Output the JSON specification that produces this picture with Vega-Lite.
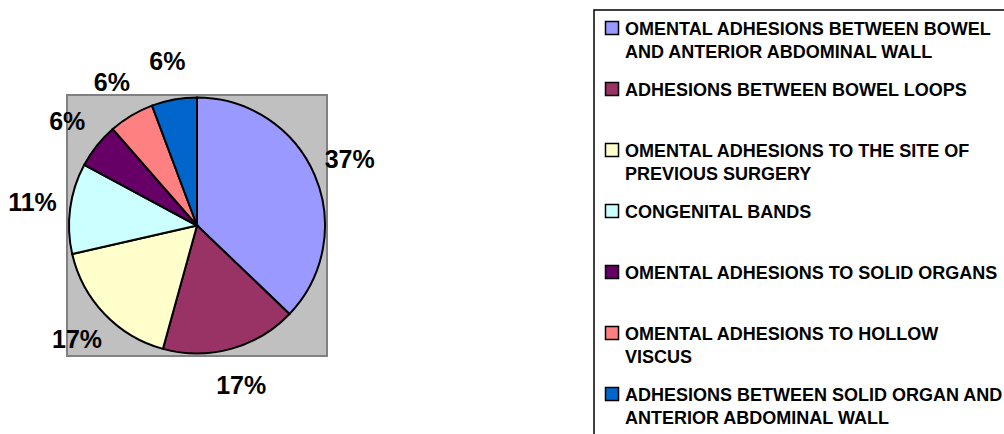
{
  "$schema": "https://vega.github.io/schema/vega-lite/v6.json",
  "width": 260,
  "height": 261,
  "autosize": {"type": "none"},
  "padding": {"left": 67, "top": 95, "right": 677, "bottom": 78},
  "background": "white",
  "view": {"fill": "#C0C0C0", "stroke": "#808080", "strokeWidth": 2},
  "data": {
    "values": [
      {"type": "OMENTAL ADHESIONS BETWEEN BOWEL\nAND ANTERIOR ABDOMINAL WALL", "n": 13},
      {"type": "ADHESIONS BETWEEN BOWEL LOOPS", "n": 6},
      {"type": "OMENTAL ADHESIONS TO THE SITE OF\nPREVIOUS SURGERY", "n": 6},
      {"type": "CONGENITAL BANDS", "n": 4},
      {"type": "OMENTAL ADHESIONS TO SOLID ORGANS", "n": 2},
      {"type": "OMENTAL ADHESIONS TO HOLLOW\nVISCUS", "n": 2},
      {"type": "ADHESIONS BETWEEN SOLID ORGAN AND\nANTERIOR ABDOMINAL WALL", "n": 2}
    ]
  },
  "transform": [
    {"window": [{"op": "row_number", "as": "idx"}]},
    {"joinaggregate": [{"op": "sum", "field": "n", "as": "total"}]},
    {"calculate": "datum.n / datum.total", "as": "share"}
  ],
  "encoding": {
    "theta": {"field": "n", "type": "quantitative", "stack": true},
    "order": {"field": "idx", "type": "quantitative"}
  },
  "layer": [
    {
      "mark": {"type": "arc", "outerRadius": 128, "stroke": "black", "strokeWidth": 2},
      "encoding": {
        "color": {
          "field": "type",
          "type": "nominal",
          "scale": {
            "domain": [
              "OMENTAL ADHESIONS BETWEEN BOWEL\nAND ANTERIOR ABDOMINAL WALL",
              "ADHESIONS BETWEEN BOWEL LOOPS",
              "OMENTAL ADHESIONS TO THE SITE OF\nPREVIOUS SURGERY",
              "CONGENITAL BANDS",
              "OMENTAL ADHESIONS TO SOLID ORGANS",
              "OMENTAL ADHESIONS TO HOLLOW\nVISCUS",
              "ADHESIONS BETWEEN SOLID ORGAN AND\nANTERIOR ABDOMINAL WALL"
            ],
            "range": ["#9999FF", "#993366", "#FFFFCC", "#CCFFFF", "#660066", "#FF8080", "#0066CC"]
          },
          "legend": {
            "title": null,
            "orient": "none",
            "legendX": 527,
            "legendY": -85,
            "symbolType": "square",
            "symbolSize": 169,
            "symbolStrokeColor": "black",
            "symbolStrokeWidth": 1.5,
            "labelFont": "Liberation Sans",
            "labelFontWeight": "bold",
            "labelFontSize": 18,
            "labelColor": "black",
            "labelLimit": 0,
            "labelBaseline": "top",
            "labelOffset": 4,
            "labelExpr": "indexof(datum.label, '\\n') < 0 ? [datum.label, ''] : split(datum.label, '\\n')",
            "rowPadding": 17,
            "padding": 9,
            "strokeColor": "black",
            "fillColor": "white",
            "encode": {
              "legend": {"update": {"strokeWidth": {"value": 1.5}}},
              "labels": {"update": {"dy": {"value": -7}, "fontSize": {"value": 18}, "lineHeight": {"value": 23}}}
            }
          }
        }
      }
    },
    {
      "mark": {"type": "text", "radius": 166, "font": "Liberation Sans", "fontWeight": "bold", "fontSize": 25, "fill": "black"},
      "encoding": {
        "detail": {"field": "type", "type": "nominal"},
        "text": {"field": "share", "type": "quantitative", "format": ".0%"}
      }
    }
  ]
}
